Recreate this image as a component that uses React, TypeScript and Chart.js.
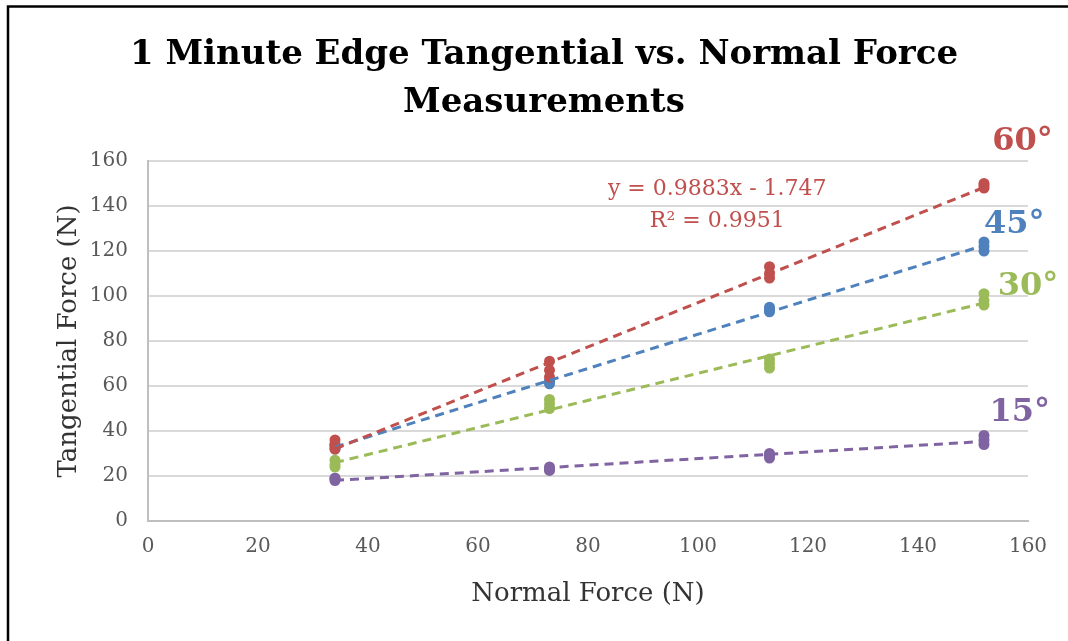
import React, { useEffect, useRef } from "react";
import { Chart, registerables } from "chart.js";

Chart.register(...registerables);

const normalForce = [34, 73, 113, 152];
const seriesNames = ["60°", "45°", "30°", "15°"];
const seriesColors = ["#C0504D", "#4F81BD", "#9BBB59", "#8064A2"];
// tangential force readings (3 repeats per normal force level)
const tangential60 = [[36, 34, 32], [71, 67, 64], [113, 110, 108], [150, 149, 148]];
const tangential45 = [[34, 33, 32], [62, 62, 61], [95, 94, 93], [124, 122, 120]];
const tangential30 = [[27, 25, 24], [54, 52, 50], [72, 70, 68], [101, 98, 96]];
const tangential15 = [[19, 19, 18], [24, 23, 22.5], [30, 29, 28], [38, 36, 34]];
const xTicks = [0, 20, 40, 60, 80, 100, 120, 140, 160];
const yTicks = [0, 20, 40, 60, 80, 100, 120, 140, 160];
const titleLines = ["1 Minute Edge Tangential vs. Normal Force", "Measurements"];
const equationLines = ["y = 0.9883x - 1.747", "R² = 0.9951"];
// label anchor (data coords) for each series name
const labelPos = [[159, 168.5], [157.5, 131.5], [160, 104], [158.5, 48]];

const allSeries = [tangential60, tangential45, tangential30, tangential15];

function toPoints(vals: number[][]) {
  const pts: { x: number; y: number }[] = [];
  vals.forEach((arr, i) => arr.forEach((v) => pts.push({ x: normalForce[i], y: v })));
  return pts;
}

function fit(pts: { x: number; y: number }[]) {
  const n = pts.length;
  const mx = pts.reduce((s, p) => s + p.x, 0) / n;
  const my = pts.reduce((s, p) => s + p.y, 0) / n;
  let sxy = 0, sxx = 0;
  pts.forEach((p) => { sxy += (p.x - mx) * (p.y - my); sxx += (p.x - mx) * (p.x - mx); });
  const m = sxy / sxx;
  return { m, b: my - m * mx };
}

const SERIF = "'DejaVu Serif', serif";

export default function App() {
  const ref = useRef<HTMLCanvasElement>(null);
  useEffect(() => {
    if (!ref.current) return;
    const datasets: any[] = [];
    allSeries.forEach((vals, i) => {
      const pts = toPoints(vals);
      datasets.push({
        type: "scatter",
        label: seriesNames[i],
        data: pts,
        backgroundColor: seriesColors[i],
        borderColor: seriesColors[i],
        pointRadius: 5.5,
        pointBorderWidth: 0,
        order: 10 + i,
      });
    });
    allSeries.forEach((vals, i) => {
      const pts = toPoints(vals);
      const { m, b } = fit(pts);
      const x0 = normalForce[0];
      const x1 = normalForce[normalForce.length - 1];
      datasets.push({
        type: "line",
        label: seriesNames[i] + " trend",
        data: [{ x: x0, y: m * x0 + b }, { x: x1, y: m * x1 + b }],
        borderColor: seriesColors[i],
        borderWidth: 3,
        borderDash: [9, 6],
        pointRadius: 0,
        fill: false,
        order: 1 + i,
      });
    });

    const decor = {
      id: "decor",
      afterDraw(chart: any) {
        const ctx = chart.ctx;
        const xs = chart.scales.x;
        const ys = chart.scales.y;
        ctx.save();
        // frame
        ctx.strokeStyle = "#000";
        ctx.lineWidth = 2.5;
        ctx.beginPath();
        ctx.moveTo(8, 641);
        ctx.lineTo(8, 6.5);
        ctx.lineTo(1068, 6.5);
        ctx.stroke();
        // title
        ctx.fillStyle = "#000";
        ctx.font = "bold 34px " + SERIF;
        ctx.textAlign = "center";
        ctx.textBaseline = "middle";
        ctx.fillText(titleLines[0], 544, 55);
        ctx.fillText(titleLines[1], 544, 103);
        // series labels
        ctx.font = "bold 32px " + SERIF;
        seriesNames.forEach((nm, i) => {
          ctx.fillStyle = seriesColors[i];
          ctx.fillText(nm, xs.getPixelForValue(labelPos[i][0]), ys.getPixelForValue(labelPos[i][1]));
        });
        // equation
        ctx.fillStyle = "#C0504D";
        ctx.font = "22px " + SERIF;
        ctx.fillText(equationLines[0], xs.getPixelForValue(103.5), ys.getPixelForValue(147.5));
        ctx.fillText(equationLines[1], xs.getPixelForValue(103.5), ys.getPixelForValue(133));
        ctx.restore();
      },
    };

    const chart = new Chart(ref.current, {
      type: "scatter",
      data: { datasets },
      options: {
        animation: false,
        responsive: false,
        layout: { padding: { top: 161, left: 0, right: 40, bottom: 0 } },
        plugins: { legend: { display: false }, tooltip: { enabled: false }, title: { display: false } },
        scales: {
          x: {
            type: "linear",
            min: 0,
            max: 160,
            afterBuildTicks: (s: any) => { s.ticks = xTicks.map((v) => ({ value: v })); },
            afterFit: (s: any) => { s.height = 120; s.paddingLeft = 0; s.paddingRight = 0; },
            ticks: { color: "#595959", font: { family: SERIF, size: 20 }, padding: 14 },
            grid: { display: false, drawTicks: false },
            border: { display: true, color: "#bfbfbf", width: 2 },
            title: {
              display: true,
              text: "Normal Force (N)",
              color: "#333",
              font: { family: SERIF, size: 26 },
              padding: { top: 0, bottom: 31 },
            },
          },
          y: {
            type: "linear",
            min: 0,
            max: 160,
            afterBuildTicks: (s: any) => { s.ticks = yTicks.map((v) => ({ value: v })); },
            afterFit: (s: any) => { s.width = 148; s.paddingTop = 0; s.paddingBottom = 0; },
            ticks: { color: "#595959", font: { family: SERIF, size: 20 }, padding: 20 },
            grid: { color: "#d9d9d9", lineWidth: 2, drawTicks: false },
            border: { display: true, color: "#bfbfbf", width: 2 },
            title: {
              display: true,
              text: "Tangential Force (N)",
              color: "#333",
              font: { family: SERIF, size: 26 },
              padding: { top: 54, bottom: 0 },
            },
          },
        },
      },
      plugins: [decor],
    });
    return () => chart.destroy();
  }, []);
  return (
    <div style={{ position: "absolute", left: 0, top: 0, width: 1068, height: 641, background: "#fff" }}>
      <canvas ref={ref} width={1068} height={641} style={{ display: "block" }} />
    </div>
  );
}
